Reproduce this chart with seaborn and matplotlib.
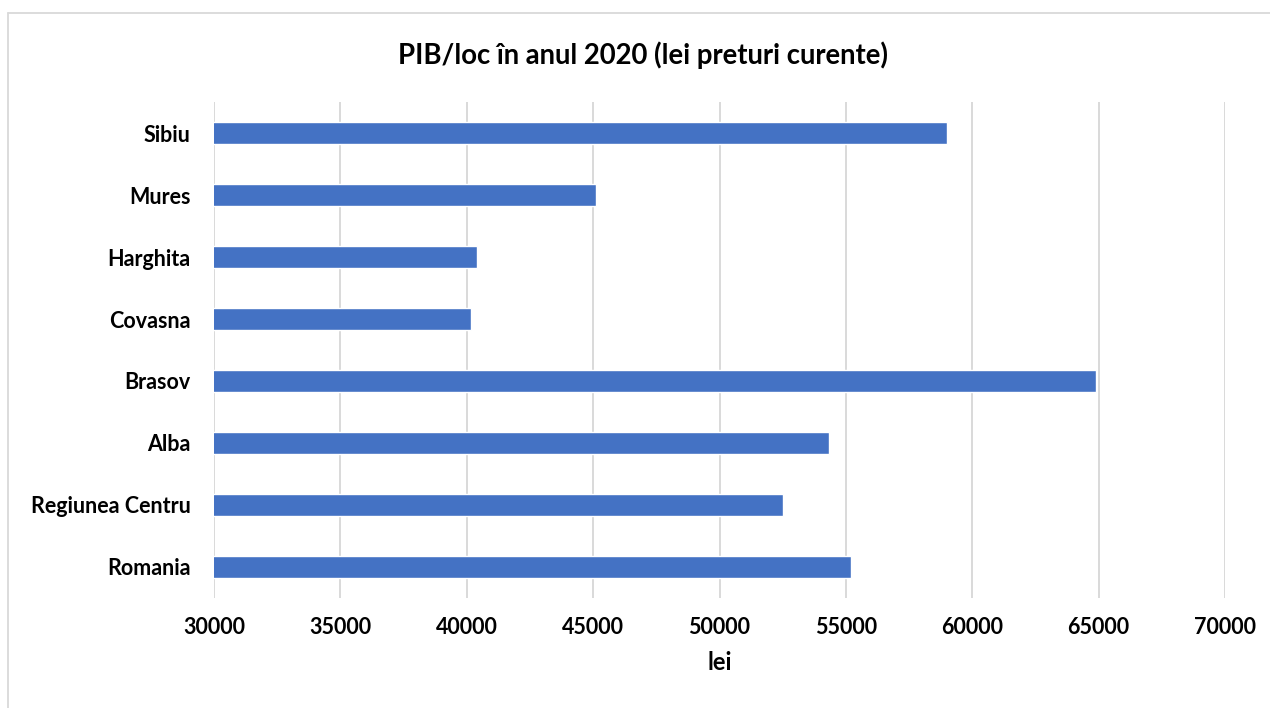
"""PIB/loc 2020 - Regiunea Centru, horizontal bar chart."""

import pandas as pd
import matplotlib.pyplot as plt
import seaborn as sns
from matplotlib.lines import Line2D

regions = ["Sibiu", "Mures", "Harghita", "Covasna", "Brasov", "Alba",
           "Regiunea Centru", "Romania"]
pib_loc = [59000, 45120, 40400, 40170, 64900, 54350, 52510, 55200]
x_ticks = [30000, 35000, 40000, 45000, 50000, 55000, 60000, 65000, 70000]

BAR_COLOR = "#4472C4"
GRID_COLOR = "#D9D9D9"

sns.set_theme(style="white")
plt.rcParams['font.family'] = ['Lato', 'DejaVu Sans']
plt.rcParams['font.weight'] = 'bold'
plt.rcParams['text.color'] = 'black'

df = pd.DataFrame({"Regiune": regions, "PIB": pib_loc})

fig = plt.figure(figsize=(12.7, 7.08), dpi=100)
ax = fig.add_axes([0.1685, 0.1554, 0.7961, 0.7005])

sns.barplot(data=df, x="PIB", y="Regiune", orient="h", color=BAR_COLOR,
            width=0.36, saturation=1, ax=ax, zorder=3)

ax.set_xlim(30000, 70000)
ax.set_ylim(7.5, -0.5)
ax.set_xticks(x_ticks)
ax.set_xticklabels([str(t) for t in x_ticks])
ax.grid(axis="x", color=GRID_COLOR, linewidth=1.4, zorder=0)
ax.grid(axis="y", visible=False)
for s in ax.spines.values():
    s.set_visible(False)
ax.tick_params(axis="both", length=0, labelsize=15.5, colors="black")
ax.tick_params(axis="y", pad=17)
ax.tick_params(axis="x", pad=14)
for lbl in ax.get_xticklabels() + ax.get_yticklabels():
    lbl.set_fontweight("bold")

ax.set_ylabel("")
ax.set_xlabel("lei", fontsize=17, fontweight="bold", color="black", labelpad=9)

fig.text(0.506, 0.922, "PIB/loc în anul 2020 (lei preturi curente)",
         ha="center", va="center", fontsize=19.8, fontweight="bold", color="black")

# chart frame (top and left edges only visible in the crop)
fig.add_artist(Line2D([8 / 1270, 1.0], [1 - 13 / 708, 1 - 13 / 708],
                      transform=fig.transFigure, color=GRID_COLOR, linewidth=1.3))
fig.add_artist(Line2D([8 / 1270, 8 / 1270], [0.0, 1 - 13 / 708],
                      transform=fig.transFigure, color=GRID_COLOR, linewidth=1.3))

fig.savefig("out.png", dpi=100)
